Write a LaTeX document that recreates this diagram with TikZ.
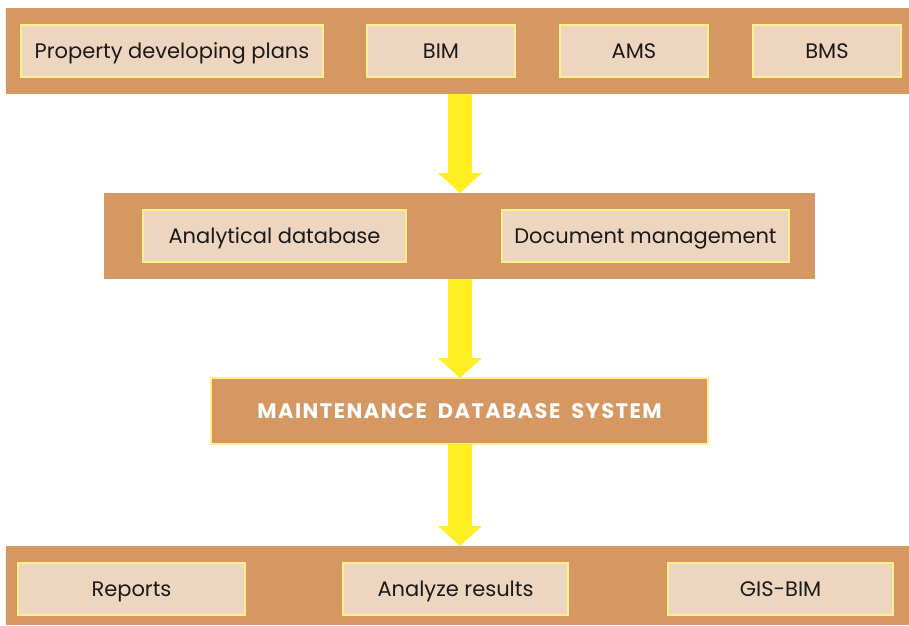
\documentclass[tikz,border=0pt]{standalone}
\usepackage{fontspec}
\setmainfont{Poppins}
\definecolor{band}{HTML}{D69862}
\definecolor{inner}{HTML}{EED5BF}
\definecolor{rim}{HTML}{FFF08A}
\definecolor{arrowy}{HTML}{FFEE22}
\definecolor{txt}{HTML}{1A1A1A}
\begin{document}
\begin{tikzpicture}[x=1pt,y=-1pt,
  bandbox/.style={fill=band,draw=none},
  itembox/.style={fill=inner,draw=rim,line width=2.5pt,font=\fontsize{21}{23}\selectfont,text=txt,inner sep=0pt,text height=14.7pt,text depth=0pt},
  mainbox/.style={fill=band,draw=rim,line width=2.5pt,font=\fontsize{21}{23}\selectfont\bfseries,text=white,inner sep=0pt,text height=14.7pt,text depth=0pt},
  flowarrow/.style={fill=arrowy,draw=none}]
\useasboundingbox (0,0) rectangle (909,625);
\fill[white] (0,0) rectangle (909,625);
% bands
\path[bandbox] (6,8) rectangle (909,94);
\path[bandbox] (104,193) rectangle (815,279);
\path[bandbox] (6,546) rectangle (909,625);
% top row
\node[itembox,minimum width=302pt,minimum height=52pt] (pdp) at (172,51) {Property developing plans};
\node[itembox,minimum width=148pt,minimum height=52pt] (bim) at (441,51) {BIM};
\node[itembox,minimum width=148pt,minimum height=52pt] (ams) at (634,51) {AMS};
\node[itembox,minimum width=148pt,minimum height=52pt] (bms) at (827,51) {BMS};
% second row
\node[itembox,minimum width=263pt,minimum height=52pt] (adb) at (274.5,236) {Analytical database};
\node[itembox,minimum width=287pt,minimum height=52pt] (doc) at (645.5,236) {Document management};
% main box
\node[mainbox,minimum width=497pt,minimum height=66pt] (mds) at (459.5,411) {\addfontfeature{LetterSpace=7}MAINTENANCE\hspace{5pt} DATABASE\hspace{5pt} SYSTEM};
% bottom row
\node[itembox,minimum width=227pt,minimum height=52pt] (rep) at (131.5,589) {Reports};
\node[itembox,minimum width=225pt,minimum height=52pt] (ana) at (455.5,589) {Analyze results};
\node[itembox,minimum width=225pt,minimum height=52pt] (gis) at (780.5,589) {GIS-BIM};
% arrows
\coordinate (a1s) at (460,94);
\coordinate (a1e) at (460,193);
\coordinate (a2s) at (460,279);
\coordinate (a2e) at (460,378);
\coordinate (a3s) at (460,444);
\coordinate (a3e) at (460,546);
\foreach \s/\e in {a1s/a1e,a2s/a2e,a3s/a3e}{
  \path[flowarrow] ([xshift=-12pt]\s) -- ([xshift=-12pt,yshift=20pt]\e) -- ([xshift=-22pt,yshift=20pt]\e) -- (\e) -- ([xshift=22pt,yshift=20pt]\e) -- ([xshift=12pt,yshift=20pt]\e) -- ([xshift=12pt]\s) -- cycle;
}
\end{tikzpicture}
\end{document}
